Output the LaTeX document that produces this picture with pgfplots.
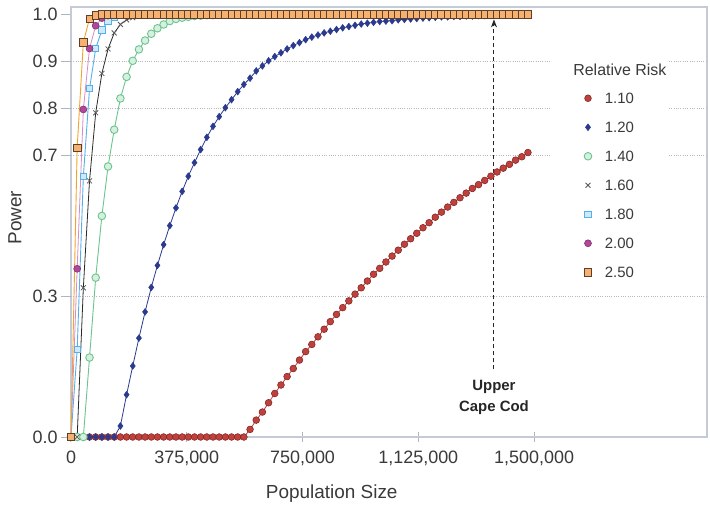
\documentclass[border=0pt]{standalone}
\usepackage{fontspec}
\setmainfont{Liberation Sans}
\usepackage{pgfplots}
\pgfplotsset{compat=1.18}
\usepackage{pgfplotstable}
\usetikzlibrary{arrows.meta}

\definecolor{axgray}{HTML}{C5CBD6}
\definecolor{tickgray}{HTML}{AEB6C4}
\definecolor{txt}{HTML}{3A3A3A}
\definecolor{cRed}{HTML}{C0403C}
\definecolor{cRedE}{HTML}{7A2222}
\definecolor{cBlue}{HTML}{2B3A8F}
\definecolor{cGreen}{HTML}{6CC48E}
\definecolor{cGreenF}{HTML}{D6F0E0}
\definecolor{cBlack}{HTML}{2A2A2A}
\definecolor{cXgray}{HTML}{5A5A5A}
\definecolor{cLBlue}{HTML}{55B0EA}
\definecolor{cLBlueF}{HTML}{CFE8FA}
\definecolor{cMag}{HTML}{B0489A}
\definecolor{cMagE}{HTML}{7E2A6C}
\definecolor{cMagL}{HTML}{D78CC8}
\definecolor{cOr}{HTML}{F6B070}
\definecolor{cOrE}{HTML}{5E4028}
\definecolor{cOrL}{HTML}{F2A22E}

% n in thousands; columns = relative risk 1.10 ... 2.50
\pgfplotstableread{
n    r110  r120  r140  r160  r180  r200  r250
0    0     0     0     0     0     0     0
20   0     0     0     0     0.207 0.398 0.684
40   0     0     0     0.353 0.616 0.775 0.934
60   0     0     0.188 0.606 0.824 0.919 0.990
80   0     0     0.377 0.767 0.919 0.973 0.998
100  0     0     0.523 0.860 0.963 0.991 1
120  0     0     0.640 0.918 0.983 0.997 1
140  0     0     0.727 0.956 0.992 0.999 1
160  0     0.026 0.801 0.976 0.997 1     1
180  0     0.100 0.852 0.987 0.998 1     1
200  0     0.168 0.890 0.992 0.999 1     1
220  0     0.234 0.917 0.995 1     1     1
240  0     0.296 0.938 0.997 1     1     1
260  0     0.354 0.954 0.998 1     1     1
280  0     0.406 0.967 0.999 1     1     1
300  0     0.455 0.976 0.999 1     1     1
320  0     0.500 0.984 1     1     1     1
340  0     0.542 0.989 1     1     1     1
360  0     0.581 0.992 1     1     1     1
380  0     0.617 0.994 1     1     1     1
400  0     0.649 0.996 1     1     1     1
420  0     0.680 0.997 1     1     1     1
440  0     0.709 0.998 1     1     1     1
460  0     0.735 0.998 1     1     1     1
480  0     0.758 0.999 1     1     1     1
500  0     0.779 0.999 1     1     1     1
520  0     0.798 0.999 1     1     1     1
540  0     0.817 0.999 1     1     1     1
560  0     0.834 1     1     1     1     1
580  0.018 0.849 1     1     1     1     1
600  0.040 0.866 1     1     1     1     1
620  0.059 0.878 1     1     1     1     1
640  0.081 0.890 1     1     1     1     1
660  0.103 0.900 1     1     1     1     1
680  0.123 0.909 1     1     1     1     1
700  0.143 0.918 1     1     1     1     1
720  0.162 0.926 1     1     1     1     1
740  0.182 0.933 1     1     1     1     1
760  0.202 0.940 1     1     1     1     1
780  0.219 0.946 1     1     1     1     1
800  0.237 0.951 1     1     1     1     1
820  0.255 0.956 1     1     1     1     1
840  0.273 0.960 1     1     1     1     1
860  0.290 0.964 1     1     1     1     1
880  0.306 0.968 1     1     1     1     1
900  0.322 0.971 1     1     1     1     1
920  0.338 0.974 1     1     1     1     1
940  0.353 0.977 1     1     1     1     1
960  0.369 0.979 1     1     1     1     1
980  0.385 0.981 1     1     1     1     1
1000 0.399 0.983 1     1     1     1     1
1020 0.414 0.984 1     1     1     1     1
1040 0.428 0.985 1     1     1     1     1
1060 0.442 0.987 1     1     1     1     1
1080 0.456 0.988 1     1     1     1     1
1100 0.469 0.989 1     1     1     1     1
1120 0.482 0.990 1     1     1     1     1
1140 0.495 0.991 1     1     1     1     1
1160 0.507 0.992 1     1     1     1     1
1180 0.520 0.993 1     1     1     1     1
1200 0.532 0.994 1     1     1     1     1
1220 0.544 0.994 1     1     1     1     1
1240 0.555 0.995 1     1     1     1     1
1260 0.566 0.995 1     1     1     1     1
1280 0.577 0.996 1     1     1     1     1
1300 0.588 0.996 1     1     1     1     1
1320 0.597 0.997 1     1     1     1     1
1340 0.607 0.997 1     1     1     1     1
1360 0.617 0.997 1     1     1     1     1
1380 0.627 0.998 1     1     1     1     1
1400 0.636 0.998 1     1     1     1     1
1420 0.645 0.998 1     1     1     1     1
1440 0.655 0.998 1     1     1     1     1
1460 0.663 0.999 1     1     1     1     1
1480 0.673 0.999 1     1     1     1     1
}\powerdata

\begin{document}
\begin{tikzpicture}
\useasboundingbox (-71bp,-73bp) rectangle (639bp,437bp);
\fill[white] (-71bp,-73bp) rectangle (639bp,437bp);
\begin{axis}[
  at={(0,0)}, anchor=south west,
  scale only axis, width=636bp, height=430bp,
  xmin=0, xmax=2060, ymin=0, ymax=1.0173,
  clip=false,
  axis line style={draw=axgray, line width=1.5bp},
  xtick pos=bottom, ytick pos=left,
  tick align=outside, major tick length=10bp,
  tick style={draw=tickgray, line width=1bp},
  every x tick/.append style={yshift=5bp},
  xtick={0,375,750,1125,1500},
  xticklabels={0,{375,000},{750,000},{1,125,000},{1,500,000}},
  ytick={0,1}, yticklabels={0.0,1.0},
  extra y ticks={0.33333,0.66667,0.77778,0.88889},
  extra y tick labels={0.3,0.7,0.8,0.9},
  extra y tick style={grid=major},
  major grid style={draw=gray!55, dash pattern=on 1bp off 1.3bp, line width=0.7bp},
  ticklabel style={font=\fontsize{18}{18}\selectfont, text=txt},
  xlabel={Population Size}, ylabel={Power},
  label style={font=\fontsize{19}{19}\selectfont, text=txt},
  xlabel style={at={(rel axis cs:0.41,0)}, anchor=center, yshift=-57bp},
  ylabel style={at={(rel axis cs:0,0.51)}, anchor=center, yshift=56bp},
  legend image code/.code={\draw[#1] plot coordinates {(0bp,0bp)};},
  legend cell align=left,
  legend style={at={(rel axis cs:0.8066,0.801)}, anchor=north west,
     draw=none, fill=none, inner sep=0pt,
     font=\fontsize{15}{15}\selectfont, text=txt,
     nodes={inner sep=0pt, text height=11bp, text depth=0pt},
     row sep=18bp, column sep=13bp},
]
\fill[white] (rel axis cs:0.756,0.353) rectangle (rel axis cs:0.939,0.881);
\node[font=\fontsize{16}{16}\selectfont, text=txt] at (rel axis cs:0.863,0.853) {Relative Risk};

% 1.10
\addplot[forget plot, no marks, draw=cRed, line width=0.8bp] table[x=n,y=r110] {\powerdata};
\addplot[only marks, mark=*, mark size=3.4bp, draw=cRedE, fill=cRed, mark options={line width=0.5bp}] table[x=n,y=r110] {\powerdata};
\addlegendentry{1.10}
% 1.20
\addplot[forget plot, no marks, draw=cBlue, line width=0.8bp] table[x=n,y=r120] {\powerdata};
\addplot[only marks, mark=diamond*, mark size=3.4bp, draw=cBlue, fill=cBlue, mark options={line width=0.5bp}] table[x=n,y=r120] {\powerdata};
\addlegendentry{1.20}
% 1.40
\addplot[forget plot, no marks, draw=cGreen, line width=0.9bp] table[x=n,y=r140] {\powerdata};
\addplot[only marks, mark=*, mark size=3.8bp, draw=cGreen, fill=cGreenF, mark options={line width=0.9bp}] table[x=n,y=r140] {\powerdata};
\addlegendentry{1.40}
% 1.60
\addplot[forget plot, no marks, draw=cBlack, line width=0.8bp] table[x=n,y=r160] {\powerdata};
\addplot[only marks, mark=x, mark size=3.5bp, draw=cXgray, mark options={line width=0.8bp}] table[x=n,y=r160] {\powerdata};
\addlegendentry{1.60}
% 1.80
\addplot[forget plot, no marks, draw=cLBlue, line width=0.9bp] table[x=n,y=r180] {\powerdata};
\addplot[only marks, mark=square*, mark size=3.2bp, draw=cLBlue, fill=cLBlueF, mark options={line width=0.9bp}] table[x=n,y=r180] {\powerdata};
\addlegendentry{1.80}
% 2.00
\addplot[forget plot, no marks, draw=cMagL, line width=0.8bp] table[x=n,y=r200] {\powerdata};
\addplot[only marks, mark=*, mark size=3.5bp, draw=cMagE, fill=cMag, mark options={line width=0.5bp}] table[x=n,y=r200] {\powerdata};
\addlegendentry{2.00}
% 2.50
\addplot[forget plot, no marks, draw=cOrL, line width=0.9bp] table[x=n,y=r250] {\powerdata};
\addplot[only marks, mark=square*, mark size=3.7bp, draw=cOrE, fill=cOr, mark options={line width=0.6bp}] table[x=n,y=r250] {\powerdata};
\addlegendentry{2.50}

% Upper Cape Cod annotation
\draw[draw=black!85, line width=1bp, dash pattern=on 4bp off 3bp, -{Stealth[length=8bp,width=6bp]}]
  (axis cs:1370,0.16) -- (axis cs:1370,0.988);
\node[align=center, font=\bfseries\fontsize{15}{21}\selectfont, text=black!85] at (axis cs:1370,0.093) {Upper\\Cape Cod};
\end{axis}
\end{tikzpicture}
\end{document}
